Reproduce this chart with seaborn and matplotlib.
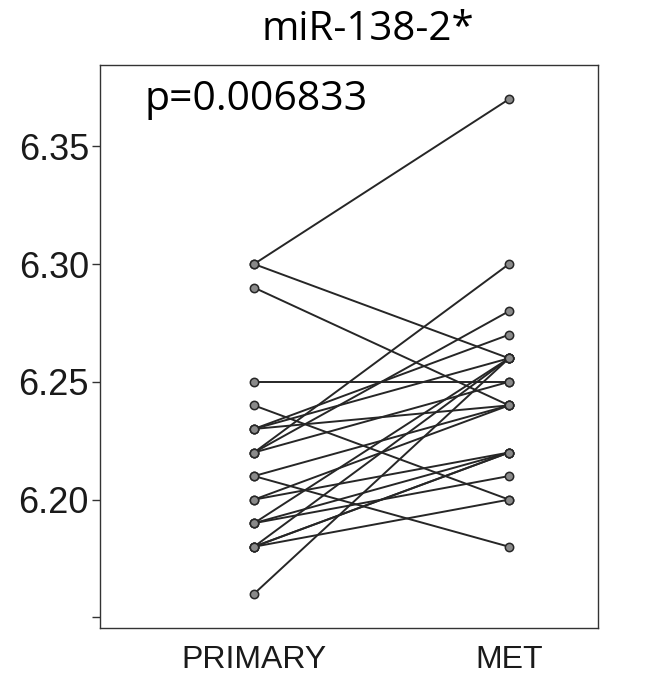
import numpy as np
import pandas as pd
import matplotlib
matplotlib.use('Agg')
import matplotlib.pyplot as plt
import seaborn as sns

# paired values (one entry per sample)
primary = [6.30, 6.30, 6.29, 6.25, 6.24, 6.23, 6.23, 6.23, 6.22, 6.22, 6.22,
           6.21, 6.21, 6.20, 6.20, 6.19, 6.19, 6.18, 6.18, 6.18, 6.18, 6.19, 6.16]
met = [6.37, 6.26, 6.24, 6.25, 6.20, 6.27, 6.26, 6.24, 6.30, 6.28, 6.25,
       6.24, 6.18, 6.24, 6.22, 6.26, 6.21, 6.26, 6.22, 6.22, 6.20, 6.22, 6.26]
groups = ['PRIMARY', 'MET']
y_ticks = [6.20, 6.25, 6.30, 6.35]
title = 'miR-138-2*'
p_text = 'p=0.006833'

n = len(primary)
df = pd.DataFrame({
    'sample': list(range(n)) * 2,
    'pos': [0] * n + [1] * n,
    'value': primary + met,
})

sns.set_style('white')
plt.rcParams['font.family'] = ['Liberation Sans', 'DejaVu Sans']

fig = plt.figure(figsize=(6.63, 6.83), dpi=100)
ax = fig.add_axes([100 / 663, 1 - 628 / 683, 498 / 663, 563 / 683])

sns.lineplot(data=df, x='pos', y='value', units='sample', estimator=None,
             color='#262626', linewidth=1.4, marker='o', markersize=6,
             markerfacecolor='#8a8a8a', markeredgecolor='#262626',
             markeredgewidth=1.1, ax=ax, legend=False)

ax.set_xlim(-0.604, 1.349)
ax.set_ylim(6.1455, 6.3845)
ax.set_xticks([0, 1])
ax.set_xticklabels(groups, fontsize=23, color='#1a1a1a')
ax.set_yticks(y_ticks + [6.15])
ax.set_yticklabels(['%.2f' % v for v in y_ticks] + [''], fontsize=26, color='#1a1a1a')
ax.tick_params(axis='y', which='both', left=True, length=6, width=1, direction='out',
               pad=2, color='#333333')
ax.tick_params(axis='x', length=0, pad=12)
ax.set_xlabel('')
ax.set_ylabel('')
for s in ax.spines.values():
    s.set_visible(True)
    s.set_color('#333333')
    s.set_linewidth(1.0)

fig.text(368 / 663, 1 - 30 / 683, title, ha='center', va='center', fontsize=29,
         color='black', family=['Open Sans', 'DejaVu Sans'])
fig.text(145 / 663, 1 - 100 / 683, p_text, ha='left', va='center', fontsize=29.5,
         color='black', family=['Open Sans', 'DejaVu Sans'])

fig.savefig('out.png', dpi=100)
